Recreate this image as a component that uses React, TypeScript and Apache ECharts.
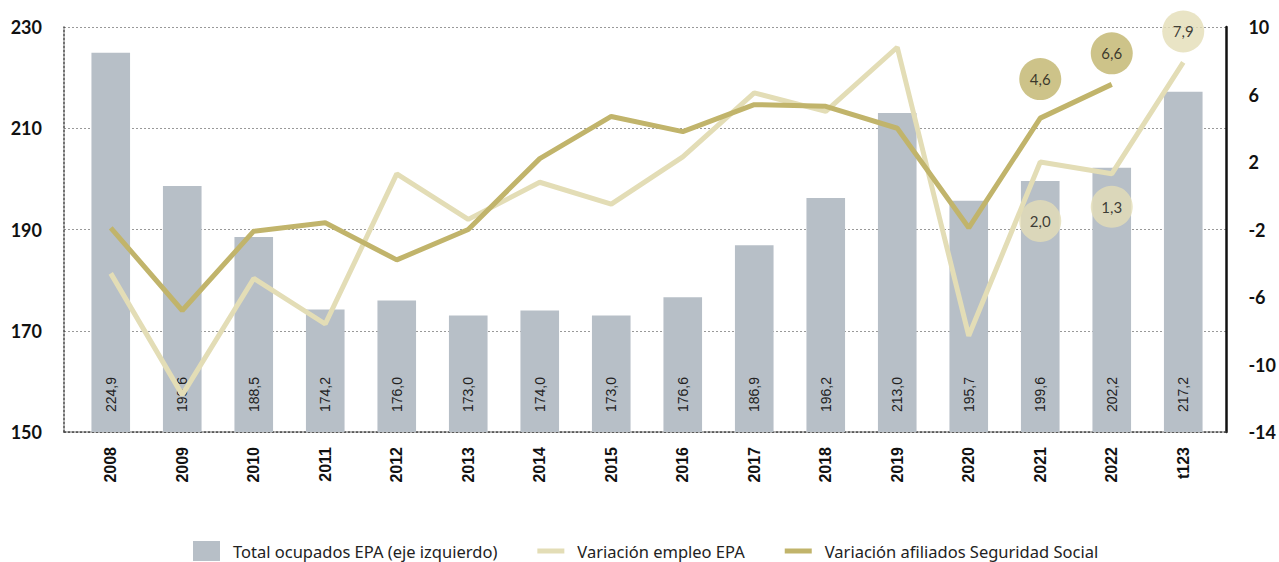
import React, { useEffect, useRef } from "react";
import * as echarts from "echarts";

const categories = ["2008", "2009", "2010", "2011", "2012", "2013", "2014", "2015", "2016", "2017", "2018", "2019", "2020", "2021", "2022", "t123"];
const ocupados = [224.9, 198.6, 188.5, 174.2, 176.0, 173.0, 174.0, 173.0, 176.6, 186.9, 196.2, 213.0, 195.7, 199.6, 202.2, 217.2];
const empleoEPA = [-4.6, -11.8, -4.9, -7.6, 1.3, -1.4, 0.8, -0.5, 2.3, 6.1, 5.0, 8.8, -8.3, 2.0, 1.3, 7.9];
const afiliados = [-1.9, -6.8, -2.1, -1.6, -3.8, -2.0, 2.2, 4.7, 3.8, 5.4, 5.3, 4.0, -1.9, 4.6, 6.6, null];
const leftTicks = { min: 150, max: 230, interval: 20 };
const rightTicks = { min: -14, max: 10, interval: 4 };
const empleoBubbles = [13, 14, 15];
const afiliadosBubbles = [13, 14];

const NAME_BAR = "Total ocupados EPA (eje izquierdo)";
const NAME_EPA = "Variación empleo EPA";
const NAME_AFI = "Variación afiliados Seguridad Social";

const C_BAR = "#b7bfc7";
const C_EPA = "#e3ddb6";
const C_AFI = "#c1b46b";

const fmt = (v: number) => v.toFixed(1).replace(".", ",");

export default function App() {
  const ref = useRef<HTMLDivElement>(null);
  useEffect(() => {
    if (!ref.current) return;
    const chart = echarts.init(ref.current, undefined, { renderer: "svg" });
    const epaOffsets: Record<number, number> = { 13: 59, 14: 33, 15: -31 };
    const afiOffsets: Record<number, number> = { 13: -39, 14: -31 };
    const bubble = (arr: (number | null)[], idx: number[], offs: Record<number, number>, color: string) =>
      idx.map((i) => ({
        value: [categories[i], arr[i]],
        symbolOffset: [0, offs[i]],
        itemStyle: { color },
      }));
    const lineIcon = "path://M0,0 L27,0 L27,5 L0,5 Z";
    const bubbleLabel = {
      show: true,
      position: "inside",
      fontFamily: "Lato",
      fontSize: 15,
      color: "#111",
      formatter: (p: any) => fmt(p.value[1]),
    };
    chart.setOption({
      animation: false,
      grid: [
        { left: 75, right: 60, top: 27, bottom: 130 },
        { left: 64, right: 47, top: 27, bottom: 130 },
      ],
      legend: {
        left: 193,
        top: 541,
        padding: 0,
        itemWidth: 27,
        itemHeight: 20,
        itemGap: 40,
        formatter: (name: string) => "{s|}" + name,
        textStyle: {
          fontFamily: "Noto Sans",
          fontSize: 16.5,
          color: "#222",
          rich: { s: { width: 8 } },
        },
        data: [
          { name: NAME_BAR, icon: "rect", itemStyle: { color: C_BAR } },
          { name: NAME_EPA, icon: lineIcon, itemStyle: { color: C_EPA } },
          { name: NAME_AFI, icon: lineIcon, itemStyle: { color: C_AFI } },
        ],
      },
      xAxis: [
        {
          type: "category",
          gridIndex: 0,
          data: categories,
          axisLine: { show: false },
          axisTick: { show: false },
          axisLabel: {
            rotate: 90,
            margin: 15,
            fontFamily: "Liberation Sans",
            fontWeight: "bold",
            fontSize: 16,
            color: "#111",
          },
        },
        {
          type: "value",
          gridIndex: 1,
          min: 0,
          max: 1,
          axisLine: { show: true, onZero: false, lineStyle: { color: "#444", type: [2, 2], width: 1.5 } },
          axisTick: { show: false },
          axisLabel: { show: false },
          splitLine: { show: false },
        },
      ],
      yAxis: [
        { type: "value", gridIndex: 0, ...leftTicks, show: false, splitLine: { show: false } },
        { type: "value", gridIndex: 0, ...rightTicks, show: false, splitLine: { show: false } },
        {
          type: "value",
          gridIndex: 1,
          position: "left",
          ...leftTicks,
          axisLine: { show: true, onZero: false, lineStyle: { color: "#444", type: [2, 2], width: 1.5 } },
          axisTick: { show: false },
          axisLabel: { margin: 22, fontFamily: "Lato", fontWeight: "bold", fontSize: 18, color: "#111" },
          splitLine: { show: true, lineStyle: { color: "#999", type: [2, 2], width: 1 } },
        },
        {
          type: "value",
          gridIndex: 1,
          position: "right",
          ...rightTicks,
          axisLine: { show: true, onZero: false, lineStyle: { color: "#111", width: 2.5 } },
          axisTick: { show: false },
          axisLabel: { margin: 22, fontFamily: "Lato", fontWeight: "bold", fontSize: 18, color: "#111" },
          splitLine: { show: false },
        },
      ],
      series: [
        {
          name: NAME_BAR,
          type: "bar",
          xAxisIndex: 0,
          yAxisIndex: 0,
          data: ocupados,
          barWidth: "54%",
          itemStyle: { color: C_BAR },
          label: {
            show: true,
            position: "insideBottom",
            rotate: 90,
            align: "left",
            verticalAlign: "middle",
            distance: 20,
            fontFamily: "Liberation Sans",
            fontSize: 14,
            color: "#222",
            formatter: (p: any) => fmt(p.value),
          },
        },
        {
          name: NAME_EPA,
          type: "line",
          xAxisIndex: 0,
          yAxisIndex: 1,
          data: empleoEPA,
          symbol: "none",
          lineStyle: { color: C_EPA, width: 5 },
          itemStyle: { color: C_EPA },
        },
        {
          name: NAME_AFI,
          type: "line",
          xAxisIndex: 0,
          yAxisIndex: 1,
          data: afiliados,
          symbol: "none",
          lineStyle: { color: C_AFI, width: 5 },
          itemStyle: { color: C_AFI },
        },
        {
          name: "bubblesEPA",
          type: "scatter",
          xAxisIndex: 0,
          yAxisIndex: 1,
          symbolSize: 42,
          z: 5,
          data: bubble(empleoEPA, empleoBubbles, epaOffsets, C_EPA),
          label: bubbleLabel,
        },
        {
          name: "bubblesAFI",
          type: "scatter",
          xAxisIndex: 0,
          yAxisIndex: 1,
          symbolSize: 42,
          z: 5,
          data: bubble(afiliados, afiliadosBubbles, afiOffsets, C_AFI),
          label: bubbleLabel,
        },
      ],
    });
    return () => chart.dispose();
  }, []);
  return <div ref={ref} style={{ width: 1279, height: 562, position: "absolute", left: 0, top: 0 }} />;
}
